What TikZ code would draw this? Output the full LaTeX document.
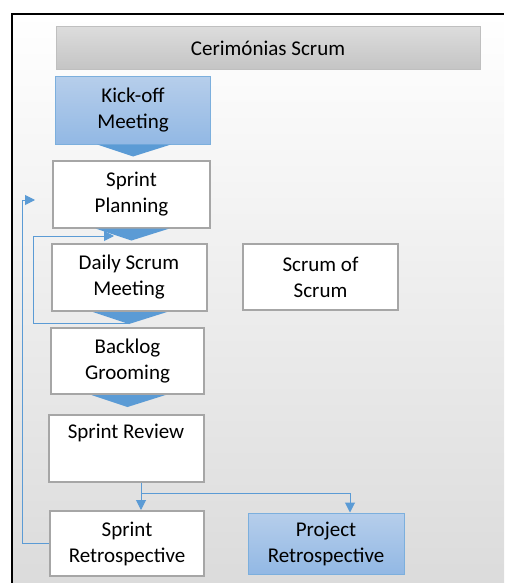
\documentclass[tikz,border=0pt]{standalone}
\usepackage[usenames,dvipsnames]{xcolor}
\usepackage{fontspec}
\setmainfont{Carlito}
\usepackage{tikz}
\usetikzlibrary{arrows.meta}

\definecolor{chevblue}{RGB}{91,155,213}
\definecolor{boxgray}{RGB}{166,166,166}
\definecolor{kicktop}{RGB}{182,206,235}
\definecolor{kickbot}{RGB}{146,184,228}
\definecolor{titletop}{RGB}{220,220,220}
\definecolor{titlebot}{RGB}{196,196,196}

\begin{document}
\begin{tikzpicture}[x=1pt,y=-1pt,
  every node/.style={font=\fontsize{21}{26}\selectfont,align=center,inner sep=0pt},
  box/.style={draw=boxgray,line width=2pt,fill=white,minimum width=155pt,minimum height=67pt},
  bluebox/.style={box,draw=chevblue!80,line width=1pt,top color=kicktop,bottom color=kickbot},
  chev/.style={fill=chevblue},
  flow/.style={draw=chevblue,line width=1pt},
  flowtip/.style={flow,-{Triangle[width=10pt,length=10pt]}}]
 \useasboundingbox (0,0) rectangle (504,583);
 \shade[top color=white,bottom color=black!14] (12,14) rectangle (504,583);
 \draw[line width=2.5pt] (12,583) -- (12,14) -- (504,14);

  \draw (268,48.5) node[draw=black!25,line width=1pt,top color=titletop,bottom color=titlebot,minimum width=424pt,minimum height=43pt] (title) {Cerimónias Scrum};
  \draw (133,110.5) node[bluebox] (kick) {Kick-off\\Meeting};
    \draw (131.5,194) node[box,minimum width=157pt] (plan) {Sprint\\Planning};
    \draw (129,277.5) node[box] (daily) {Daily Scrum\\Meeting};
    \draw (320.5,277) node[box,minimum height=66pt] (sos) {Scrum of\\Scrum};
    \draw (127.5,361) node[box,minimum width=153pt,minimum height=66pt] (backlog) {Backlog\\Grooming};
    \draw (126,448) node[box] (review) {Sprint Review\\\strut};
	  \draw (127,543.5) node[box,minimum width=154pt,minimum height=65pt] (sretro) {Sprint\\Retrospective};
	  \draw (326,543.5) node[bluebox,minimum width=156pt,minimum height=61pt] (pretro) {Project\\Retrospective};

  \foreach \b in {kick,plan,daily,backlog}
    \fill[chev] ([xshift=-36pt]\b.south) -- ([xshift=38pt]\b.south) -- ([yshift=-12pt]\b.south) -- cycle;

  \coordinate (dailytip) at ([yshift=-11pt]daily.south);
  \coordinate (inner) at (33,236);
  \coordinate (innerend) at (114,236);
  \coordinate (outer) at (22,200);
  \coordinate (outerend) at (35,200);
  \coordinate (split) at (141,493);

     \draw[flowtip] (dailytip) -| (inner) -- (innerend);
     \draw[flowtip] (sretro.west) -| (outer) -- (outerend);
     \draw[flow] (review.south -| split) -- (split);
     \draw[flowtip] (split) -- (sretro.north -| split);
     \draw[flowtip] (split) -| ([xshift=24pt]pretro.north);

\end{tikzpicture}
\end{document}
